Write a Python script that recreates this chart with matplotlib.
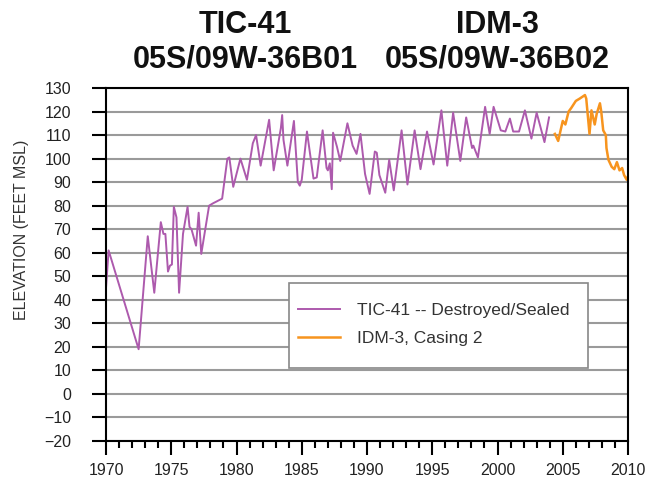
import matplotlib.pyplot as plt
from matplotlib.patches import Rectangle
from matplotlib.ticker import MultipleLocator

plt.rcParams['font.family'] = ['Liberation Sans', 'DejaVu Sans']

# TIC-41 water levels (decimal year, feet MSL)
tic_years = [1970.0, 1970.2, 1972.5, 1973.2, 1973.7, 1974.2, 1974.4, 1974.55, 1974.75,
             1974.9, 1975.05, 1975.2, 1975.4, 1975.6, 1975.9, 1976.25, 1976.4, 1976.55,
             1976.9, 1977.1, 1977.3, 1977.9, 1978.2, 1978.9, 1979.3, 1979.45, 1979.75,
             1980.3, 1980.8, 1981.25, 1981.5, 1981.85, 1982.5, 1982.85, 1983.4, 1983.5,
             1983.6, 1983.9, 1984.4, 1984.7, 1984.85, 1985.0, 1985.4, 1985.9, 1986.15,
             1986.6, 1986.9, 1987.0, 1987.15, 1987.3, 1987.4, 1987.7, 1987.95, 1988.5,
             1988.9, 1989.2, 1989.5, 1989.85, 1990.2, 1990.6, 1990.75, 1990.95, 1991.4,
             1991.7, 1992.05, 1992.65, 1993.1, 1993.65, 1994.1, 1994.6, 1995.1, 1995.7,
             1996.15, 1996.6, 1997.15, 1997.6, 1998.05, 1998.15, 1998.5, 1999.05, 1999.4,
             1999.7, 2000.25, 2000.6, 2000.95, 2001.2, 2001.65, 2002.1, 2002.6, 2003.0,
             2003.6, 2003.95]
tic_elev = [45, 61, 19, 67, 43, 73, 68, 68, 52,
            54.5, 55, 79.5, 75, 43, 68, 79.5, 71, 70,
            63, 77, 59.5, 80, 81, 83, 100, 100.5, 88,
            100, 91, 106.5, 110, 97, 116.5, 95, 113, 118.5,
            108, 97, 116, 90, 88.5, 91, 111.5, 91.5, 92,
            112, 96, 95, 98, 87, 111, 105, 99, 115,
            105.5, 102, 110.5, 93.5, 85, 103, 102.5, 93, 85.5,
            99.5, 86.5, 112, 89, 112, 95.5, 111.5, 97.5, 120.5,
            97, 119.5, 99, 117.5, 104.5, 105.5, 100.5, 122, 110.5,
            122, 112, 111.5, 117, 111.5, 111.5, 120.5, 108.5, 119.5,
            107, 117.5]

# IDM-3, Casing 2
idm_years = [2004.4, 2004.65, 2005.0, 2005.2, 2005.45, 2005.65, 2006.0, 2006.3, 2006.7,
             2006.8, 2007.05, 2007.2, 2007.45, 2007.6, 2007.85, 2007.95, 2008.1, 2008.3,
             2008.35, 2008.5, 2008.75, 2008.95, 2009.15, 2009.35, 2009.55, 2009.7, 2009.9,
             2010.0]
idm_elev = [110.5, 107.5, 116, 114.5, 120, 121.5, 124.5, 125.5, 127,
            125.5, 110.5, 120.5, 114.5, 119, 123.5, 120, 112, 110,
            104.5, 99.5, 96.5, 95.5, 98.5, 95, 96, 93, 91,
            92.5]

W, H = 664, 483
fig = plt.figure(figsize=(W / 100, H / 100), dpi=100)
ax = fig.add_axes([106/W, 1 - 441/H, 522/W, 353/H])

ax.plot(tic_years, tic_elev, color='#AD5AAD', linewidth=1.4,
        label='TIC-41 -- Destroyed/Sealed')
ax.plot(idm_years, idm_elev, color='#F7941E', linewidth=1.8,
        label='IDM-3, Casing 2')

ax.set_xlim(1970, 2010)
ax.set_ylim(-20, 130)
ax.xaxis.set_major_locator(MultipleLocator(5))
ax.xaxis.set_minor_locator(MultipleLocator(1))
ax.yaxis.set_major_locator(MultipleLocator(10))
ax.grid(True, axis='y', color='#9a9a9a', linewidth=1.5)
ax.set_axisbelow(True)

for s in ax.spines.values():
    s.set_linewidth(1.5)
    s.set_color('black')
ax.tick_params(axis='y', direction='out', length=10, width=1.5, pad=15,
               labelsize=11.5, labelcolor='#222222')
ax.tick_params(axis='x', which='major', direction='out', length=10, width=1.5, pad=6,
               labelsize=11.5, labelcolor='#222222')
ax.tick_params(axis='x', which='minor', direction='out', length=5, width=1.5)

fig.text(22/W, 1 - 230/H, 'ELEVATION (FEET MSL)', rotation=90, fontsize=11.5,
         color='#333333', ha='center', va='center')

fig.text(245/W, 1 - 42.5/H, 'TIC-41\n05S/09W-36B01', fontsize=22, fontweight='bold',
         ha='center', va='center', color='#111111', linespacing=1.2)
fig.text(497/W, 1 - 42.5/H, 'IDM-3\n05S/09W-36B02', fontsize=22, fontweight='bold',
         ha='center', va='center', color='#111111', linespacing=1.2)

# legend box drawn separately so its padding matches the original
box = Rectangle((289/W, 1 - 368/H), 299/W, 85/H, transform=fig.transFigure,
                facecolor='white', edgecolor='#888888', linewidth=1.2,
                zorder=4, clip_on=False)
ax.add_patch(box)
leg = ax.legend(loc='upper left', bbox_to_anchor=(298/W, 1 - 303/H),
                bbox_transform=fig.transFigure, borderaxespad=0, borderpad=0,
                frameon=False, fontsize=12.5, handlelength=2.4, handletextpad=1.0,
                labelspacing=0.72)
for t in leg.get_texts():
    t.set_color('#333333')
leg.set_zorder(5)

fig.savefig('out.png', dpi=100)
